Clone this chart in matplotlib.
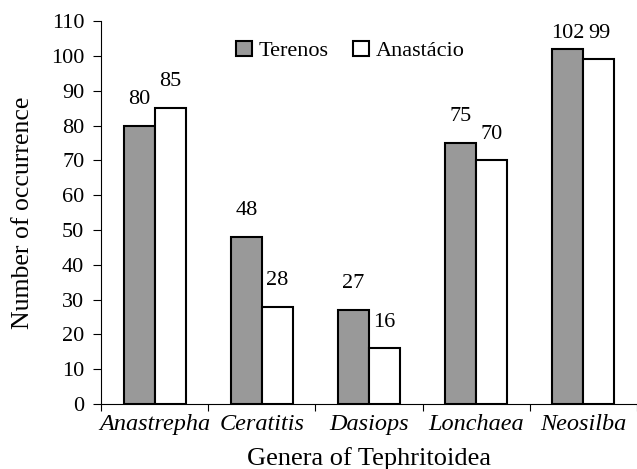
import numpy as np
import matplotlib
matplotlib.use("Agg")
import matplotlib.pyplot as plt
from matplotlib.ticker import FixedLocator, MultipleLocator

genera = ["Anastrepha", "Ceratitis", "Dasiops", "Lonchaea", "Neosilba"]
terenos = [80, 48, 27, 75, 102]
anastacio = [85, 28, 16, 70, 99]

plt.rcParams['font.family'] = ['Liberation Serif', 'DejaVu Serif']

fig = plt.figure(figsize=(6.37, 4.69), dpi=100)
ax = fig.add_axes([0.1586, 0.1386, 0.8414, 0.8164])

x = np.arange(len(genera))
w = 0.29
b1 = ax.bar(x - w / 2, terenos, w, color='#999999', edgecolor='black', linewidth=1.5, label='Terenos')
b2 = ax.bar(x + w / 2, anastacio, w, color='white', edgecolor='black', linewidth=1.5, label='Anastácio')

# value labels; the tallest one is kept level with its neighbour near the top
for bars, vals in [(b1, terenos), (b2, anastacio)]:
    for r, v in zip(bars, vals):
        ax.annotate(str(v), (r.get_x() + r.get_width() / 2, min(v, 99)), xytext=(0, 12),
                    textcoords='offset points', ha='center', va='bottom', fontsize=16)

ax.set_xlim(-0.5, len(genera) - 0.5)
ax.set_ylim(0, 110)
ax.yaxis.set_major_locator(MultipleLocator(10))
ax.set_xticks(x)
ax.set_xticklabels(genera, fontstyle='italic', fontsize=17.5)
ax.xaxis.set_minor_locator(FixedLocator(np.arange(-0.5, len(genera), 1.0)))
ax.tick_params(axis='x', which='major', length=0, pad=7)
ax.tick_params(axis='x', which='minor', length=5, direction='out', width=0.8)
ax.tick_params(axis='y', labelsize=16, length=6, width=0.8, pad=6)

for s in ['top', 'right']:
    ax.spines[s].set_visible(False)
for s in ['left', 'bottom']:
    ax.spines[s].set_linewidth(0.8)

ax.set_xlabel('Genera of Tephritoidea', fontsize=19, labelpad=9)
ax.set_ylabel('Number of occurrence', fontsize=18.5)
ax.yaxis.set_label_coords(-0.125, 0.5)

ax.legend(loc='center', bbox_to_anchor=(0.465, 0.922), ncol=2, frameon=False,
          fontsize=16, handlelength=0.72, handleheight=0.72, handletextpad=0.3, columnspacing=1.1)

fig.savefig('out.png', dpi=100)
